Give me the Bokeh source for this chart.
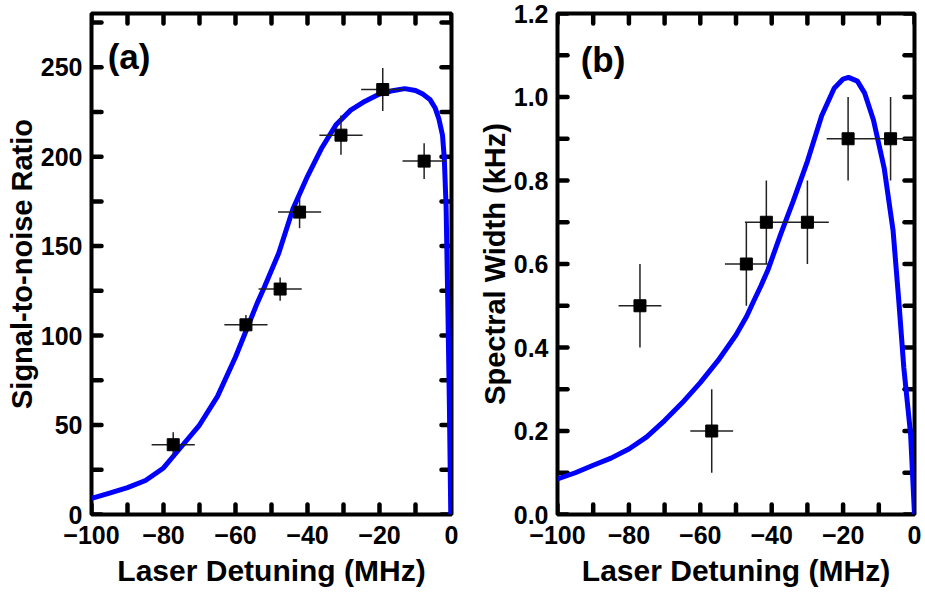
from bokeh.plotting import figure
from bokeh.models import FixedTicker, PrintfTickFormatter, Range1d, Label
from bokeh.layouts import row
from bokeh.embed import file_html
from bokeh.resources import INLINE

# ---------------- data: panel (a) ----------------
a_x = [-77.3, -57.1, -47.6, -42.2, -30.7, -19.1, -7.6]
a_y = [39, 106, 126, 169, 212, 237.5, 197.5]
a_xerr = [6, 6, 6, 6, 6, 6, 6]
a_yerr = [7, 5.5, 6.5, 9, 11, 12, 10]

a_curve_x = [-100, -95, -90, -85, -80, -75, -70, -65, -60, -56, -54, -52, -48, -44, -40,
             -36, -32, -28, -24, -20, -16, -13, -10, -8, -6, -4.5, -3.5, -2.5, -2,
             -1.5, -1, -0.6, -0.2]
a_curve_y = [9, 12, 15, 19, 26, 38, 50, 66, 88, 108, 118, 127, 146, 171, 189,
             205, 218, 226, 231, 235, 237, 238, 237, 235, 232, 227, 221, 212, 199,
             172, 115, 63, 0]

a_xlabels = [-100, -80, -60, -40, -20, 0]
a_ylabels = [0, 50, 100, 150, 200, 250]
a_xticks = [-100, -90, -80, -70, -60, -50, -40, -30, -20, -10, 0]
a_yticks = [0, 25, 50, 75, 100, 125, 150, 175, 200, 225, 250, 275]

# ---------------- data: panel (b) ----------------
b_x = [-76.9, -56.8, -47.1, -41.5, -30.0, -18.6, -6.7]
b_y = [0.5, 0.2, 0.6, 0.7, 0.7, 0.9, 0.9]
b_xerr = [6, 6, 6, 6, 6, 6, 6]
b_yerr = [0.1, 0.1, 0.1, 0.1, 0.1, 0.1, 0.1]

b_curve_x = [-100, -95, -90, -85, -80, -75, -70, -65, -60, -55, -50, -47, -45, -43, -41,
             -37.5, -34, -30, -26, -22.5, -20, -18.5, -16, -14, -11.5, -8.5, -6, -4.4,
             -3, -1.1, 0]
b_curve_y = [0.085, 0.10, 0.118, 0.135, 0.157, 0.186, 0.225, 0.268, 0.316, 0.369, 0.43,
             0.475, 0.512, 0.548, 0.587, 0.671, 0.75, 0.846, 0.955, 1.021, 1.043, 1.047,
             1.038, 1.01, 0.945, 0.83, 0.68, 0.512, 0.352, 0.193, 0.0]

b_xlabels = [-100, -80, -60, -40, -20, 0]
b_ylabels = [0.0, 0.2, 0.4, 0.6, 0.8, 1.0, 1.2]
b_xticks = [-100, -90, -80, -70, -60, -50, -40, -30, -20, -10, 0]
b_yticks = [0.0, 0.1, 0.2, 0.3, 0.4, 0.5, 0.6, 0.7, 0.8, 0.9, 1.0, 1.1, 1.2]

FONT = "Liberation Sans"
FRAME_H = 501
TICK_PX = 10


def style(p, xlabel, ylabel, xlab, ylab, yfmt=None):
    p.grid.grid_line_color = None
    p.outline_line_color = "black"
    p.outline_line_width = 4
    p.background_fill_color = None
    p.border_fill_color = "white"
    p.xaxis.ticker = FixedTicker(ticks=xlab, minor_ticks=[])
    p.yaxis.ticker = FixedTicker(ticks=ylab, minor_ticks=[])
    if yfmt:
        p.yaxis.formatter = PrintfTickFormatter(format=yfmt)
    p.xaxis.axis_label = xlabel
    p.yaxis.axis_label = ylabel
    for ax in [p.xaxis[0], p.yaxis[0]]:
        ax.axis_line_color = None
        ax.major_tick_in = 0
        ax.major_tick_out = 0
        ax.minor_tick_in = 0
        ax.minor_tick_out = 0
        ax.major_label_text_font = FONT
        ax.major_label_text_font_style = "bold"
        ax.major_label_text_font_size = "25px"
        ax.major_label_text_color = "black"
        ax.axis_label_text_font = FONT
        ax.axis_label_text_font_style = "bold"
        ax.axis_label_text_color = "black"
    p.xaxis.axis_label_text_font_size = "30px"
    p.yaxis.axis_label_text_font_size = "29px"
    p.xaxis.major_label_standoff = 11
    p.yaxis.major_label_standoff = 9
    p.xaxis.axis_label_standoff = 7
    p.yaxis.axis_label_standoff = 0


def ticks(p, xt, yt, xr, yr, frame_w):
    # inward tick marks on all four frame sides
    dy = (yr[1] - yr[0]) * TICK_PX / FRAME_H
    dx = (xr[1] - xr[0]) * TICK_PX / frame_w
    n, m = len(xt), len(yt)
    kw = dict(line_color="black", line_width=4.5, line_cap="round")
    p.segment(x0=xt, y0=[yr[0]] * n, x1=xt, y1=[yr[0] + dy] * n, **kw)
    p.segment(x0=xt, y0=[yr[1]] * n, x1=xt, y1=[yr[1] - dy] * n, **kw)
    p.segment(x0=[xr[0]] * m, y0=yt, x1=[xr[0] + dx] * m, y1=yt, **kw)
    p.segment(x0=[xr[1]] * m, y0=yt, x1=[xr[1] - dx] * m, y1=yt, **kw)


def draw(p, x, y, xerr, yerr, cx, cy):
    p.line(cx, cy, line_color="#0000FF", line_width=5)
    x0 = [a - e for a, e in zip(x, xerr)]
    x1 = [a + e for a, e in zip(x, xerr)]
    y0 = [a - e for a, e in zip(y, yerr)]
    y1 = [a + e for a, e in zip(y, yerr)]
    p.segment(x0=x0, y0=y, x1=x1, y1=y, line_color="#222222", line_width=1.5)
    p.segment(x0=x, y0=y0, x1=x, y1=y1, line_color="#222222", line_width=1.5)
    p.scatter(x, y, marker="square", size=12, fill_color="black", line_color="black")


a_xr, a_yr = (-100, 0), (0, 280)
pa = figure(width=461, height=600, output_backend="svg", toolbar_location=None,
            x_range=Range1d(*a_xr), y_range=Range1d(*a_yr),
            min_border_left=91, min_border_right=10, min_border_bottom=86,
            min_border_top=13)
style(pa, "Laser Detuning (MHz)", "Signal-to-noise Ratio", a_xlabels, a_ylabels)
ticks(pa, a_xticks, a_yticks, a_xr, a_yr, 360)
draw(pa, a_x, a_y, a_xerr, a_yerr, a_curve_x, a_curve_y)
pa.add_layout(Label(x=-95.5, y=256, text="(a)", text_font=FONT, text_font_style="bold",
                    text_font_size="35px", text_color="black",
                    text_baseline="middle", text_align="left"))

b_xr, b_yr = (-100, 0), (0, 1.2)
pb = figure(width=464, height=600, output_backend="svg", toolbar_location=None,
            x_range=Range1d(*b_xr), y_range=Range1d(*b_yr),
            min_border_left=96, min_border_right=11, min_border_bottom=86,
            min_border_top=13)
style(pb, "Laser Detuning (MHz)", "Spectral Width (kHz)", b_xlabels, b_ylabels, "%.1f")
ticks(pb, b_xticks, b_yticks, b_xr, b_yr, 357)
draw(pb, b_x, b_y, b_xerr, b_yerr, b_curve_x, b_curve_y)
pb.add_layout(Label(x=-93.5, y=1.09, text="(b)", text_font=FONT, text_font_style="bold",
                    text_font_size="35px", text_color="black",
                    text_baseline="middle", text_align="left"))

layout = row(pa, pb)
open("out.html", "w").write(file_html(layout, INLINE))
